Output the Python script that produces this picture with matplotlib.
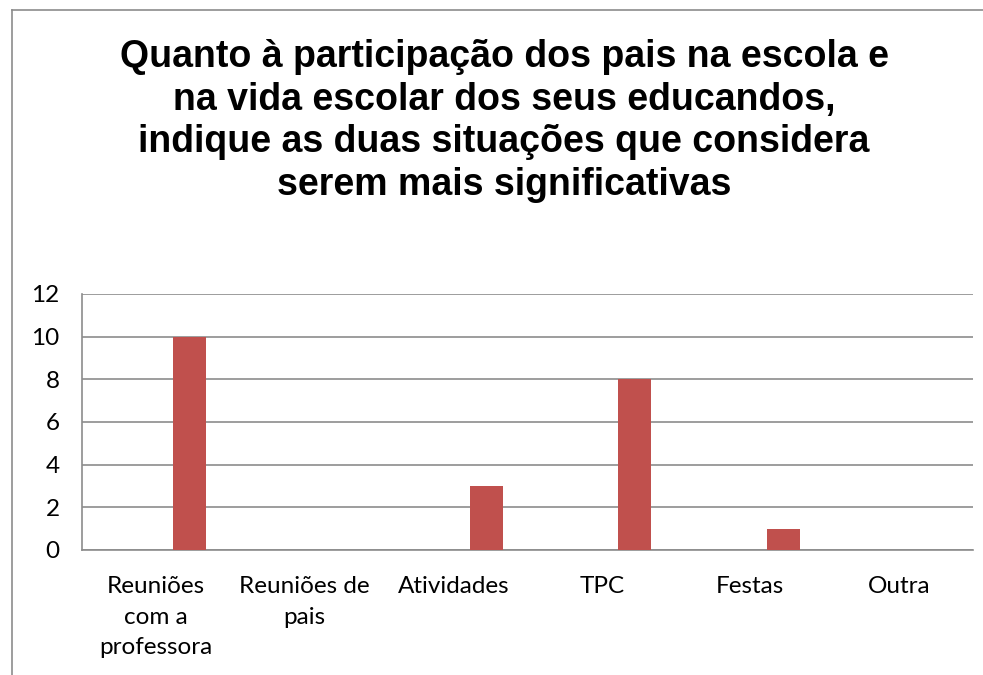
import matplotlib.pyplot as plt
import numpy as np
from matplotlib.lines import Line2D

categories = ["Reuniões\ncom a\nprofessora", "Reuniões de\npais", "Atividades",
              "TPC", "Festas", "Outra"]
values = [10, 0, 3, 8, 1, 0]
y_ticks = [0, 2, 4, 6, 8, 10, 12]
title = ("Quanto à participação dos pais na escola e\n"
         "na vida escolar dos seus educandos,\n"
         "indique as duas situações que considera\n"
         "serem mais significativas")

fig = plt.figure(figsize=(9.83, 6.75), dpi=100)
W, H = 983, 675
ax = fig.add_axes([82 / W, 1 - 550 / H, (973 - 82) / W, (550 - 294) / H])

x = np.arange(len(categories))
bw = 1 / 4.5
ax.bar(x + bw, values, width=bw, color="#C0504D", zorder=3)

ax.set_xlim(-0.5, len(categories) - 0.5)
ax.set_ylim(0, 12)
ax.set_yticks(y_ticks)
ax.yaxis.grid(True, color="#8C8C8C", linewidth=1.2)
ax.set_axisbelow(True)
for s in ["top", "right"]:
    ax.spines[s].set_visible(False)
for s in ["left", "bottom"]:
    ax.spines[s].set_color("#8C8C8C")
    ax.spines[s].set_linewidth(1.2)

ax.set_xticks(x)
ax.set_xticklabels(categories, family="Lato", fontsize=17.5, linespacing=1.55, va="top")
ax.tick_params(axis="x", length=0, pad=19)
ax.tick_params(axis="y", length=0, pad=16)
for lab in ax.get_yticklabels():
    lab.set_family("Lato")
    lab.set_fontsize(17.5)

fig.text(504 / W, 1 - 39 / H, title, ha="center", va="top", family="Liberation Sans",
         fontweight="bold", fontsize=27, linespacing=1.24)

# chart area border (top and left edges visible)
fig.add_artist(Line2D([12 / W, 1], [1 - 10 / H, 1 - 10 / H], color="#8C8C8C", linewidth=1.2))
fig.add_artist(Line2D([12 / W, 12 / W], [0, 1 - 10 / H], color="#8C8C8C", linewidth=1.2))

fig.savefig("out.png", dpi=100)
